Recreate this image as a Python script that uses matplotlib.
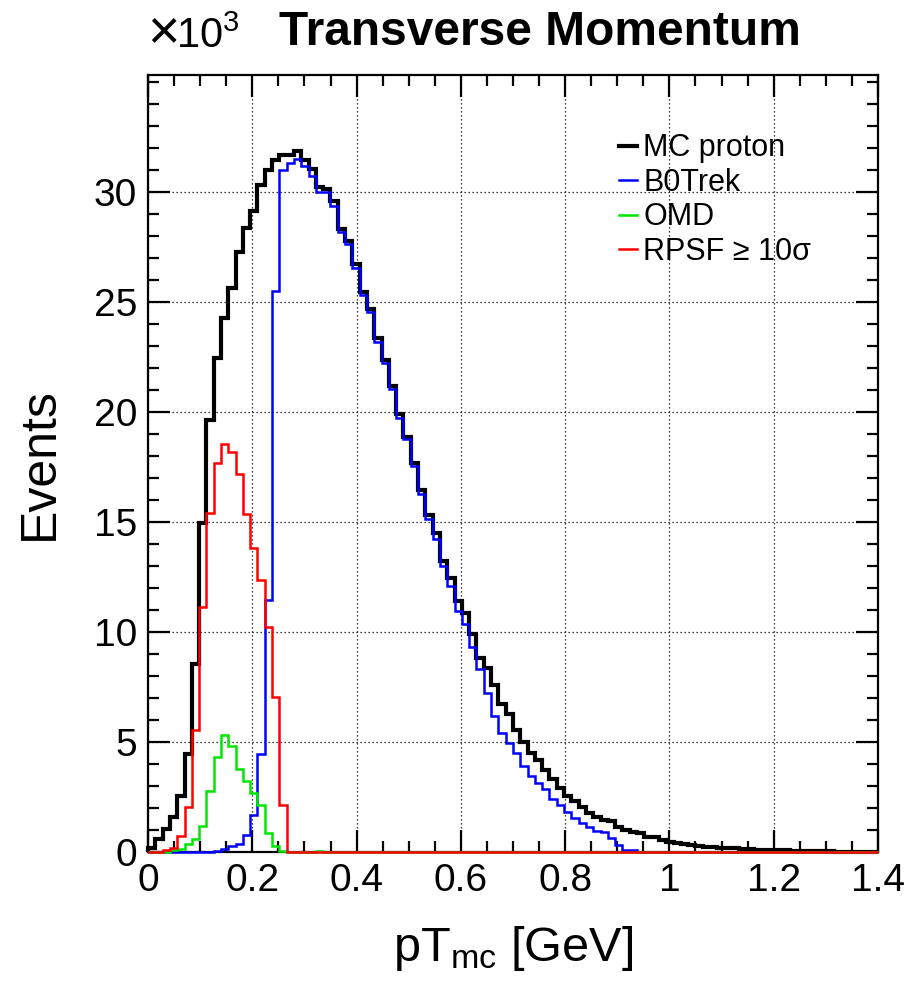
import numpy as np
import matplotlib
matplotlib.use("Agg")
import matplotlib.pyplot as plt

plt.rcParams['font.family'] = ['Liberation Sans', 'DejaVu Sans']
plt.rcParams['mathtext.fontset'] = 'custom'
plt.rcParams['mathtext.rm'] = 'Liberation Sans'
plt.rcParams['mathtext.it'] = 'Liberation Sans:italic'
plt.rcParams['mathtext.bf'] = 'Liberation Sans:bold'

# ----------------------------------------------------
# Histogram contents (events / 1000), 100 bins from 0 to 1.4 GeV
# ----------------------------------------------------
pt_min, pt_max, n_bins = 0.0, 1.4, 100

mc_proton = [
    0.20, 0.61, 1.06, 1.59, 2.55, 4.47, 8.56, 14.95, 19.62, 22.45,
    24.27, 25.61, 27.27, 28.33, 29.12, 30.30, 31.00, 31.44, 31.67, 31.67,
    31.86, 31.42, 31.02, 30.21, 30.10, 29.56, 28.32, 27.76, 26.71, 25.45,
    24.68, 23.35, 22.35, 21.18, 19.89, 18.87, 17.68, 16.45, 15.32, 14.48,
    13.23, 12.47, 11.42, 10.85, 9.90, 8.80, 8.35, 7.60, 6.72, 6.25,
    5.54, 4.98, 4.50, 4.17, 3.71, 3.33, 2.92, 2.53, 2.32, 2.05,
    1.79, 1.59, 1.44, 1.42, 1.14, 1.02, 0.92, 0.85, 0.68, 0.66,
    0.56, 0.47, 0.40, 0.38, 0.31, 0.25, 0.24, 0.22, 0.20, 0.18,
    0.16, 0.15, 0.14, 0.11, 0.10, 0.09, 0.08, 0.07, 0.06, 0.05,
    0.05, 0.04, 0.03, 0.03, 0.02, 0.02, 0.01, 0.01, 0.01, 0.00,
]

b0trek = [
    0.00, 0.00, 0.00, 0.00, 0.00, 0.00, 0.00, 0.00, 0.00, 0.05,
    0.15, 0.25, 0.38, 0.76, 1.70, 4.47, 11.44, 25.50, 30.98, 31.29,
    31.50, 31.18, 30.69, 29.97, 29.97, 29.35, 28.16, 27.63, 26.55, 25.29,
    24.52, 23.19, 22.23, 21.02, 19.73, 18.76, 17.52, 16.26, 15.13, 14.24,
    13.00, 12.10, 10.97, 10.35, 9.30, 8.30, 7.23, 6.17, 5.41, 4.93,
    4.50, 3.90, 3.44, 3.14, 2.84, 2.43, 2.12, 1.82, 1.56, 1.34,
    1.15, 0.97, 0.90, 0.65, 0.30, 0.10, 0.08, 0.00, 0.00, 0.00,
] + [0.0] * 30

omd = [
    0.00, 0.00, 0.00, 0.08, 0.15, 0.35, 0.60, 1.20, 2.75, 4.32,
    5.30, 4.80, 3.75, 3.23, 2.70, 2.12, 0.88, 0.25, 0.05, 0.02,
    0.00, 0.00, 0.00, 0.03, 0.00, 0.00, 0.00, 0.00, 0.00, 0.00,
] + [0.0] * 70

rpsf = [
    0.00, 0.02, 0.08, 0.20, 0.71, 2.05, 5.53, 11.14, 15.38, 17.68,
    18.53, 18.18, 17.17, 15.35, 13.79, 12.36, 10.20, 7.06, 2.15, 0.02,
] + [0.0] * 80

labels = ["MC proton", "B0Trek", "OMD", "RPSF \u2265 10\u03c3"]
colors = ["black", "#0000ff", "#00e600", "#ff0000"]
widths = [3.0, 1.8, 1.8, 1.8]

edges = np.linspace(pt_min, pt_max, n_bins + 1)

# ----------------------------------------------------
# Figure
# ----------------------------------------------------
fig = plt.figure(figsize=(9.17, 9.82), dpi=100)
ax = fig.add_axes([148 / 917, 1 - 852 / 982, 730 / 917, 777 / 982])

for vals, lab, col, lw in zip([mc_proton, b0trek, omd, rpsf], labels, colors, widths):
    ax.stairs(vals, edges, color=col, lw=lw, label=lab, zorder=3, clip_on=False)

ax.set_xlim(pt_min, pt_max)
ax.set_ylim(0, 35.3)

ax.set_xticks(np.arange(0, 1.41, 0.2))
ax.set_xticklabels([f"{v:g}" for v in np.arange(0, 1.41, 0.2).round(1)])
ax.set_xticks(np.arange(0, 1.41, 0.05), minor=True)
ax.set_yticks(np.arange(0, 31, 5))
ax.set_yticks(np.arange(0, 35.3, 1), minor=True)

ax.tick_params(which='both', direction='in', top=True, right=True, width=1.6, labelsize=28)
ax.tick_params(which='major', length=16, pad=8)
ax.tick_params(which='minor', length=8)
for s in ax.spines.values():
    s.set_linewidth(1.6)

ax.grid(True, which='major', color='black', lw=0.9, linestyle=(0, (1, 2.2)), zorder=0)

ax.set_xlabel(r"pT$_{\mathrm{mc}}$ [GeV]", fontsize=35, labelpad=18)
ax.set_ylabel("Events", fontsize=36, labelpad=22)

fig.text(147 / 917, 1 - 48 / 982, "\u00d7", fontsize=40, ha='left', va='baseline')
fig.text(176 / 917, 1 - 48 / 982, r"10$^{3}$", fontsize=30, ha='left', va='baseline')
fig.text(540 / 917, 1 - 45 / 982, "Transverse Momentum", fontsize=34.5, fontweight='bold',
         ha='center', va='baseline')

leg = ax.legend(loc='upper left', bbox_to_anchor=(0.645, 0.925), frameon=False,
                fontsize=22, handlelength=0.6, handletextpad=0.2, labelspacing=0.15,
                borderpad=0, borderaxespad=0)

fig.savefig("out.png", dpi=100)
